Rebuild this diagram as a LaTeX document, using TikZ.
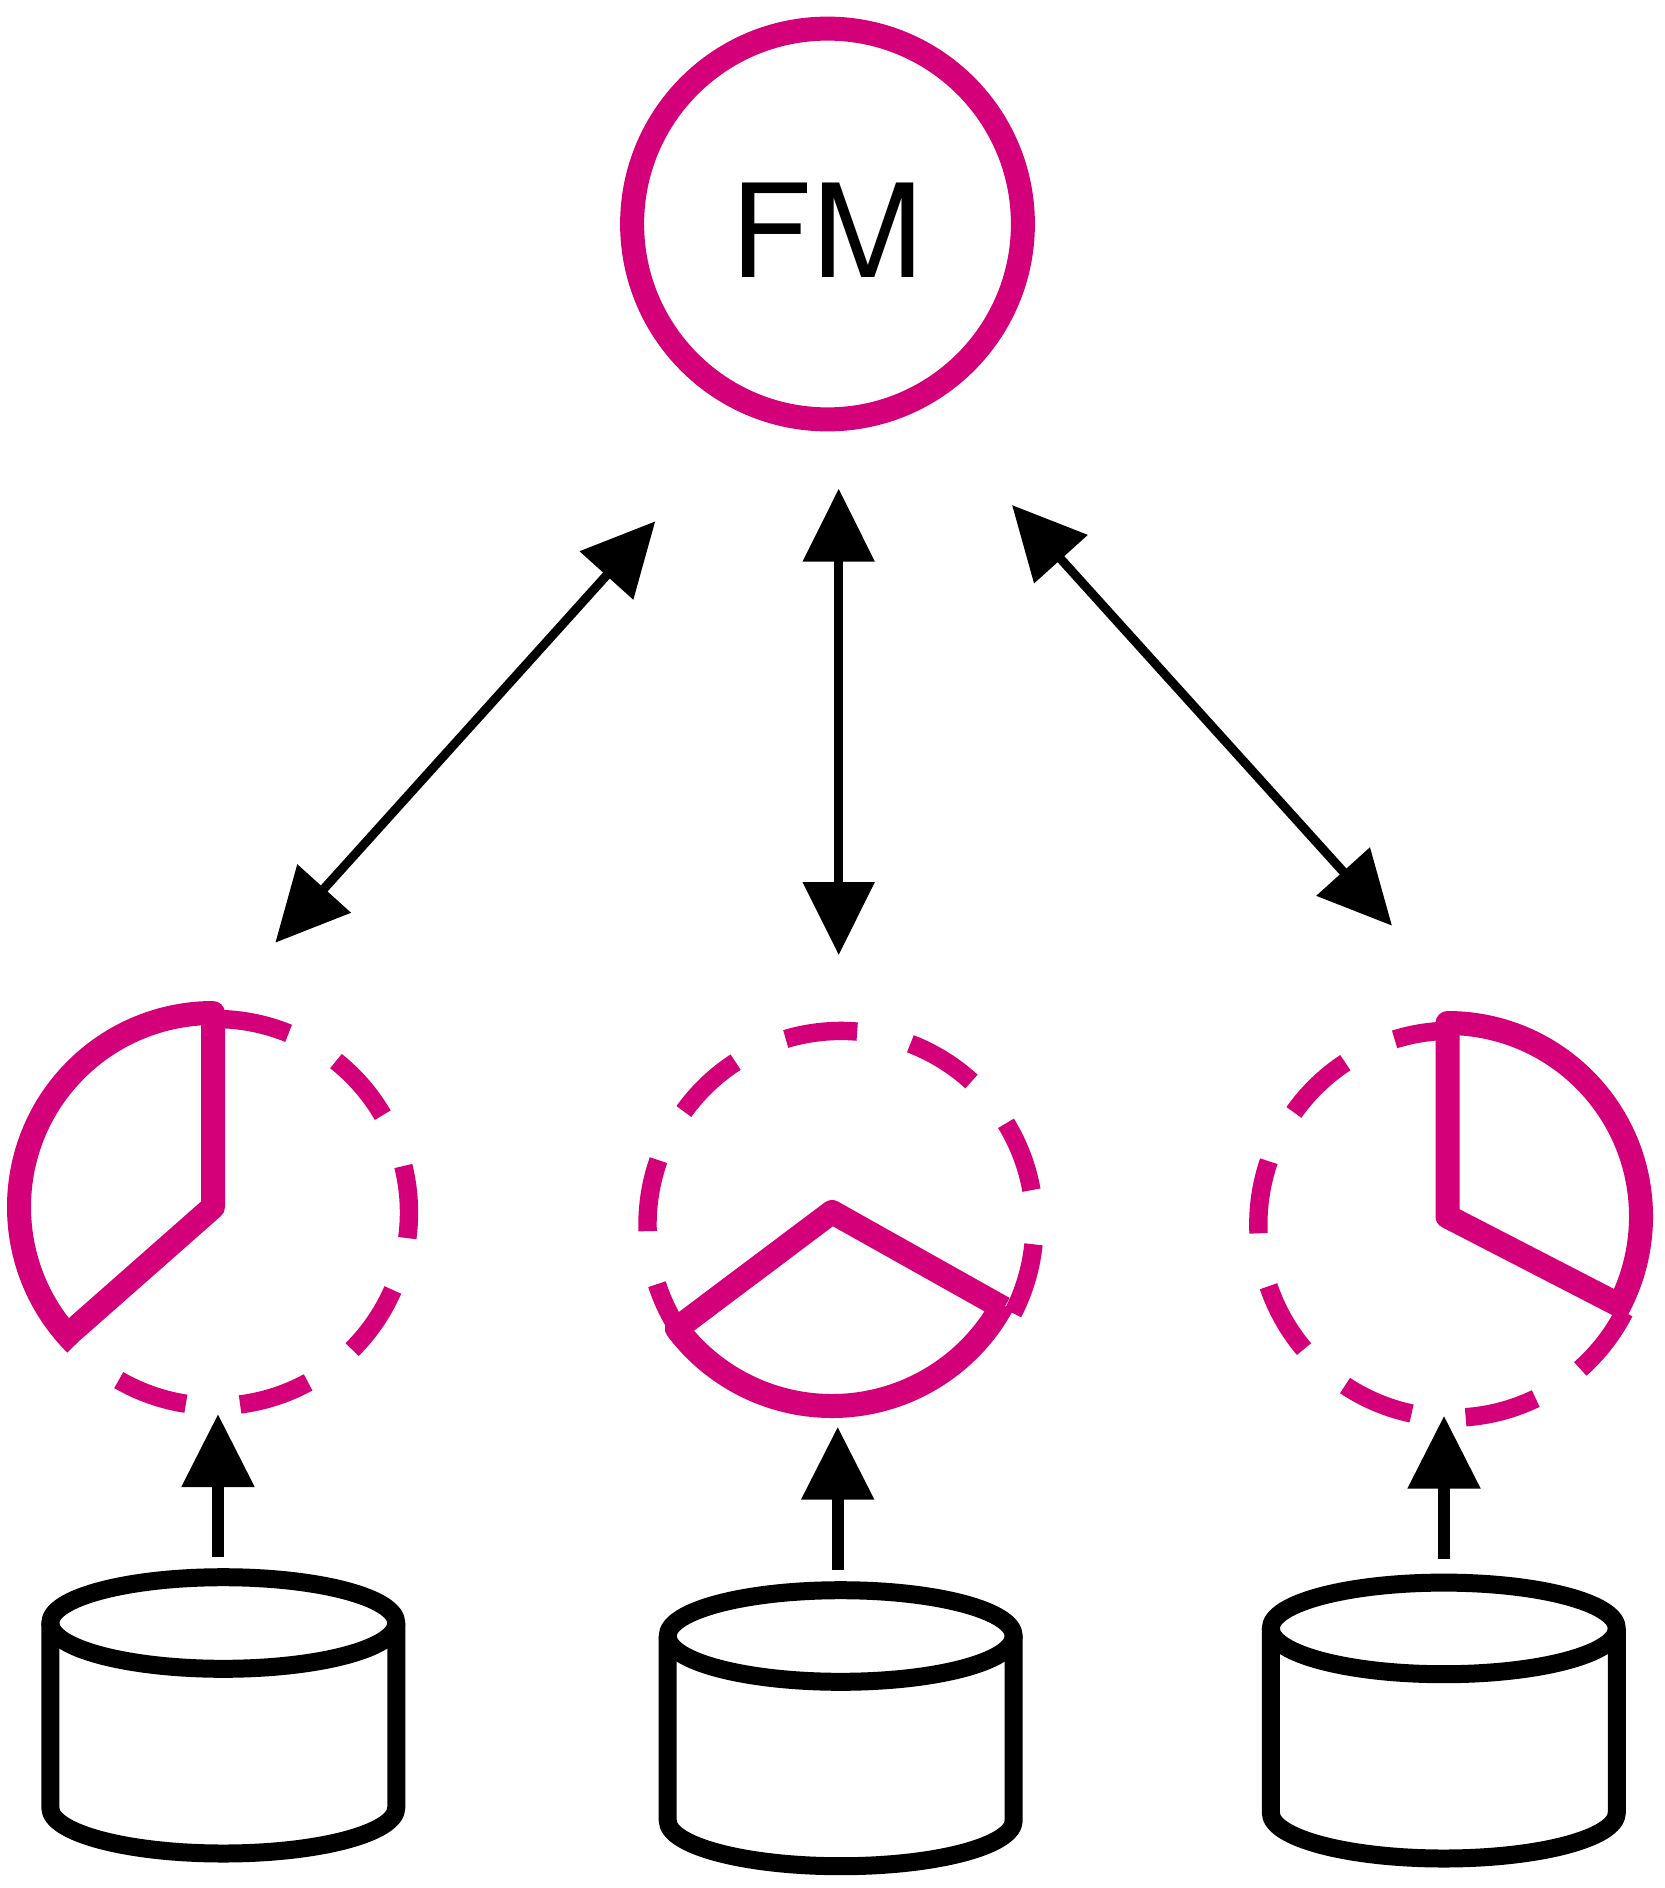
\documentclass[tikz,border=0pt]{standalone}
\usepackage{fontspec}
\setmainfont{TeX Gyre Heros}
\usetikzlibrary{arrows.meta}
\definecolor{fmpink}{HTML}{D4007A}
\tikzset{
  headtip/.tip={Triangle[length=36.5pt,width=35pt]},
  fmring/.style={circle,draw=fmpink,line width=12pt,minimum size=195.4pt,inner sep=0pt},
  fmtext/.style={inner sep=0pt,anchor=base,font=\fontsize{66.5}{80}\selectfont},
  biarrow/.style={draw=black,line width=4.5pt,headtip-headtip},
  uparrow/.style={draw=black,line width=6.15pt,-headtip},
  dashpart/.style={draw=fmpink,line width=9.2pt,line cap=butt},
  solidpart/.style={draw=fmpink,line width=12pt,line cap=butt,line join=round},
  drum/.style={draw=black,line width=9pt,line cap=butt,line join=round}
}
% dashed ring: centre x, centre y, list of start/end angles
\newcommand{\ringdashes}[3]{%
  \begin{scope}[shift={(#1,#2)},yscale=-1]
    \foreach \aa/\bb in {#3}{
      \draw[dashpart] (\aa:193.5) arc[start angle=\aa,end angle=\bb,radius=96.75pt];
    }
  \end{scope}}
% drum: name, centre x, top-centre y, bottom-centre y
\newcommand{\drumshape}[4]{%
  \coordinate (#1-top) at (#2,#3);
  \coordinate (#1-bot) at (#2,#4);
  \draw[drum] (#1-top) ellipse[x radius=86.5pt,y radius=22.9pt];
  \draw[drum] ([xshift=-86.5pt]#1-top) -- ([xshift=-86.5pt]#1-bot)
     .. controls ([xshift=-86.5pt,yshift=12.65pt]#1-bot) and ([xshift=-47.8pt,yshift=22.9pt]#1-bot) .. ([yshift=22.9pt]#1-bot)
     .. controls ([xshift=47.8pt,yshift=22.9pt]#1-bot) and ([xshift=86.5pt,yshift=12.65pt]#1-bot) .. ([xshift=86.5pt]#1-bot)
     -- ([xshift=86.5pt]#1-top);}
\begin{document}
\begin{tikzpicture}[x=0.5pt,y=0.5pt,yscale=-1]
  \useasboundingbox (0,0) rectangle (1664,1888);
  \fill[white] (0,0) rectangle (1664,1888);

  % FM
  \node[fmring] (fm) at (827.5,224) {};
  \node[fmtext] (fmlabel) at (827,277.5) {\scalebox{1}[0.975]{FM}};

  % double arrows
  \coordinate (dl-top) at (655.3,521.3);
  \coordinate (dl-bot) at (275.3,942.7);
  \coordinate (dc-top) at (838.7,488.7);
  \coordinate (dc-bot) at (838.7,955);
  \coordinate (dr-top) at (1012,505);
  \coordinate (dr-bot) at (1392,925.7);
  \draw[biarrow] (dl-bot) -- (dl-top);
  \draw[biarrow] (dc-bot) -- (dc-top);
  \draw[biarrow] (dr-bot) -- (dr-top);

  % dashed rings
  \ringdashes{215.5}{1212.5}{67.8/89,30.2/51.5,-7.6/13.9,-45.1/-23.6,-82.7/-61.4,-120/-98.8}
  \ringdashes{841}{1224.4}{85.2/106.6,47.6/69,10.2/31.5,-27.3/-5.9,123/144.3,160.6/182,198/219}
  \ringdashes{1451.8}{1224.2}{90/107.2,123.4/144.7,161/182.7,198.7/220.2,236.5/258,-85.9/-64.3,-48.4/-27}

  % solid sectors
  \begin{scope}[shift={(213,1207)},yscale=-1]
    \coordinate (sl-c) at (0,0);
    \draw[solidpart] (225:194) arc[start angle=225,end angle=90,radius=97pt] -- (sl-c) -- (221.4:187);
  \end{scope}
  \begin{scope}[shift={(832,1212)},yscale=-1]
    \coordinate (sm-c) at (0,0);
    \draw[solidpart] (-29.3:197) -- (sm-c) -- (216.9:194) arc[start angle=216.9,end angle=331.5,radius=97pt];
  \end{scope}
  \begin{scope}[shift={(1447.5,1216.5)},yscale=-1]
    \coordinate (sr-c) at (0,0);
    \draw[solidpart] (-27.3:194) -- (sr-c) -- (90:193.5) arc[start angle=90,end angle=-29,radius=96.75pt];
  \end{scope}

  % drums
  \drumshape{da}{223.3}{1623}{1807.7}
  \drumshape{db}{840.7}{1636}{1820.4}
  \drumshape{dc}{1443.8}{1628.4}{1812.7}

  % up arrows
  \coordinate (ua-s) at (218,1557.3);
  \coordinate (ua-t) at (218,1414);
  \coordinate (ub-s) at (837.7,1570);
  \coordinate (ub-t) at (837.7,1426.7);
  \coordinate (uc-s) at (1444,1559.3);
  \coordinate (uc-t) at (1444,1415.7);
  \draw[uparrow] (ua-s) -- (ua-t);
  \draw[uparrow] (ub-s) -- (ub-t);
  \draw[uparrow] (uc-s) -- (uc-t);
\end{tikzpicture}
\end{document}
